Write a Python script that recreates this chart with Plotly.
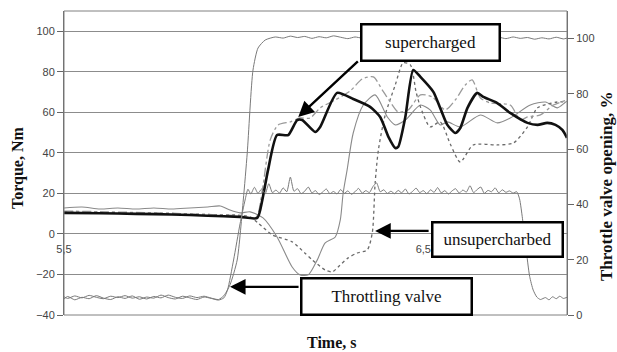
import plotly.graph_objects as go

# ---------------- data ----------------
# Throttle valve opening, supercharged run (%), right axis
thr_sc_t = [5.50, 5.51, 5.53, 5.55, 5.57, 5.59, 5.61, 5.63, 5.65, 5.67, 5.69, 5.71, 5.73, 5.75, 5.77, 5.79,
            5.81, 5.83, 5.85, 5.87, 5.89, 5.91, 5.93, 5.945, 5.962, 5.982, 5.999, 6.010, 6.026, 6.040, 6.060,
            6.088, 6.11, 6.13, 6.15, 6.17, 6.19, 6.21, 6.23, 6.25, 6.27, 6.29, 6.31, 6.33, 6.35, 6.37, 6.39,
            6.41, 6.43, 6.45, 6.47, 6.49, 6.51, 6.53, 6.55, 6.57, 6.59, 6.61, 6.63, 6.65, 6.67, 6.69, 6.71,
            6.73, 6.75, 6.77, 6.79, 6.81, 6.83, 6.85, 6.87, 6.89, 6.90]
thr_sc_v = [6.6, 6.0, 6.9, 6.2, 7.1, 6.4, 5.9, 6.8, 6.3, 7.0, 6.1, 6.6, 5.8, 6.7, 6.2, 7.2,
            6.4, 6.0, 6.9, 6.3, 6.8, 6.1, 5.6, 7.0, 10.9, 19.9, 41.6, 58.6, 88.6, 96.6, 99.5,
            100.6, 100.2, 100.9, 100.4, 100.8, 100.1, 100.7, 100.3, 101.0, 100.5, 100.0, 100.6, 100.2, 100.9, 100.4, 100.8,
            100.1, 100.6, 100.3, 100.8, 100.2, 100.7, 100.1, 100.5, 100.0, 100.6, 100.2, 100.7, 100.1, 100.4, 99.9, 100.5,
            100.0, 100.6, 100.1, 100.4, 99.8, 100.3, 99.9, 100.5, 99.9, 100.2]

# Throttle valve opening, unsupercharged run (%), right axis
thr_us_t = [5.50, 5.51, 5.53, 5.55, 5.57, 5.59, 5.61, 5.63, 5.65, 5.67, 5.69, 5.71, 5.73, 5.75, 5.77, 5.79,
            5.81, 5.83, 5.85, 5.87, 5.89, 5.91, 5.93, 5.945, 5.955, 5.972, 5.990, 6.004, 6.012,
            6.02, 6.03, 6.04, 6.05, 6.06, 6.07, 6.08, 6.09, 6.10, 6.11, 6.12, 6.13, 6.14, 6.15, 6.16, 6.17,
            6.18, 6.19, 6.20, 6.21, 6.22, 6.23, 6.24, 6.25, 6.26, 6.27, 6.28, 6.29, 6.30, 6.31, 6.32, 6.33,
            6.34, 6.35, 6.36, 6.37, 6.38, 6.39, 6.40, 6.41, 6.42, 6.43, 6.44, 6.45, 6.46, 6.47, 6.48, 6.49,
            6.50, 6.51, 6.52, 6.53, 6.54, 6.55, 6.56, 6.57, 6.58, 6.59, 6.60, 6.61, 6.62, 6.63, 6.64, 6.65,
            6.66, 6.67, 6.68, 6.69, 6.70, 6.71, 6.72, 6.73, 6.74, 6.75, 6.76, 6.768, 6.776, 6.786, 6.796,
            6.806, 6.816, 6.826, 6.84, 6.85, 6.86, 6.87, 6.88, 6.89, 6.90]
thr_us_v = [5.8, 6.7, 5.5, 6.4, 5.9, 7.0, 6.1, 5.6, 6.6, 6.0, 6.9, 5.7, 6.5, 6.1, 7.2, 6.3,
            5.8, 6.8, 6.2, 5.6, 6.5, 6.0, 5.4, 6.2, 9.0, 19.9, 33.0, 41.6, 45.5,
            43.8, 46.2, 44.0, 45.6, 43.9, 47.5, 44.3, 45.2, 44.1, 46.0, 44.6, 49.9, 44.8, 45.7, 43.9, 44.8,
            46.3, 44.2, 45.0, 43.6, 44.5, 45.6, 43.9, 44.7, 43.8, 45.4, 44.0, 44.9, 43.7, 44.6, 45.8, 44.1,
            45.0, 44.3, 46.5, 47.8, 44.6, 45.3, 44.0, 44.8, 43.9, 45.1, 44.2, 45.6, 43.8, 44.7, 45.9, 44.3,
            45.0, 43.9, 45.3, 44.4, 46.1, 44.2, 45.0, 43.8, 44.9, 45.7, 44.1, 45.2, 44.5, 46.8, 44.3, 45.4,
            46.3, 44.0, 45.1, 44.6, 46.0, 44.2, 45.3, 44.4, 44.9, 44.1, 44.6, 42.0, 35.0, 24.0, 14.0,
            9.0, 6.5, 5.6, 6.3, 5.5, 6.6, 5.9, 6.8, 6.0, 6.4]

# Torque, supercharged (Nm), thick black
tq_sc_t = [5.50, 5.60, 5.70, 5.80, 5.90, 5.99, 6.038, 6.052, 6.068, 6.093, 6.124, 6.149, 6.163, 6.199, 6.213,
           6.260, 6.305, 6.352, 6.380, 6.403, 6.422, 6.430, 6.450, 6.472, 6.492, 6.528, 6.547, 6.567, 6.589,
           6.603, 6.623, 6.650, 6.667, 6.706, 6.742, 6.790, 6.818, 6.845, 6.868, 6.887, 6.900]
tq_sc_v = [10.4, 10.2, 9.9, 9.6, 9.0, 8.4, 7.9, 16.8, 31.6, 48.8, 48.8, 56.2, 56.2, 50.3, 52.8,
           69.6, 66.6, 62.7, 57.7, 47.9, 42.4, 42.9, 57.7, 80.9, 77.5, 70.1, 62.2, 53.8, 49.8,
           52.3, 62.2, 69.6, 67.6, 64.6, 59.7, 54.8, 53.8, 54.8, 53.8, 51.3, 47.4]

# Torque, supercharged second trace (Nm), grey dash-dot
tq_sc2_t = [5.50, 5.60, 5.70, 5.80, 5.90, 5.99, 6.035, 6.052, 6.074, 6.096, 6.130, 6.157, 6.185, 6.213, 6.255,
            6.297, 6.330, 6.361, 6.386, 6.408, 6.430, 6.458, 6.492, 6.525, 6.561, 6.589, 6.617, 6.636, 6.659,
            6.687, 6.742, 6.770, 6.790, 6.826, 6.862, 6.900]
tq_sc2_v = [11.3, 11.0, 10.6, 10.2, 9.6, 9.0, 8.4, 21.7, 46.4, 53.8, 55.3, 57.2, 57.2, 62.2, 66.1,
            70.6, 76.5, 77.5, 71.0, 65.1, 60.2, 61.2, 68.6, 67.6, 61.2, 66.1, 73.5, 76.0, 67.1,
            64.6, 63.6, 56.2, 57.7, 58.7, 63.6, 66.1]

# Torque, unsupercharged (Nm), thin grey solid
tq_us_t = [5.50, 5.55, 5.60, 5.65, 5.70, 5.75, 5.80, 5.85, 5.90, 5.935, 5.962, 5.99, 6.018, 6.054, 6.093,
           6.135, 6.157, 6.180, 6.205, 6.227, 6.255, 6.269, 6.277, 6.288, 6.305, 6.333, 6.366, 6.400, 6.422,
           6.450, 6.492, 6.519, 6.547, 6.567, 6.603, 6.659, 6.706, 6.742, 6.798, 6.840, 6.873, 6.893, 6.900]
tq_us_v = [12.8, 13.3, 12.3, 12.8, 12.3, 12.8, 12.3, 12.8, 13.3, 13.8, 11.8, 10.4, 10.9, 7.9, -1.5,
           -16.3, -20.2, -20.2, -12.8, -4.4, -1.5, 6.9, 20.2, 31.6, 49.8, 63.6, 68.6, 57.7, 53.8,
           56.2, 63.6, 61.2, 53.8, 55.3, 52.8, 58.7, 54.8, 57.2, 63.6, 65.1, 62.2, 64.6, 65.5]

# Torque, unsupercharged second trace (Nm), dotted
tq_us2_t = [5.50, 5.60, 5.70, 5.80, 5.90, 5.99, 6.018, 6.040, 6.080, 6.135, 6.170, 6.191, 6.227, 6.247, 6.263,
            6.291, 6.316, 6.344, 6.358, 6.366, 6.375, 6.394, 6.422, 6.444, 6.464, 6.480, 6.492, 6.519, 6.547,
            6.575, 6.603, 6.639, 6.706, 6.751, 6.790, 6.818, 6.873, 6.896]
tq_us2_v = [10.9, 10.6, 10.4, 10.1, 9.6, 9.2, 8.4, 5.4, -0.5, -3.9, -9.4, -12.8, -17.8, -18.7, -16.3,
            -11.8, -9.4, -7.9, 0.5, 25.2, 41.4, 58.7, 73.5, 84.4, 83.4, 70.0, 62.7, 52.8, 55.3,
            44.4, 35.5, 43.9, 43.9, 44.9, 52.8, 62.2, 65.1, 65.1]

x_ticks = [5.5, 6.5]
x_tick_labels = ["5,5", "6,5"]
left_ticks = [-40, -20, 0, 20, 40, 60, 80, 100]
right_ticks = [0, 20, 40, 60, 80, 100]

# ---------------- figure ----------------
W, H = 617, 352
L, R, T, B = 64, 50, 11, 37
SERIF = "Liberation Serif, Times New Roman, serif"
SANS = "Liberation Sans, Arial, sans-serif"

fig = go.Figure()
fig.add_trace(go.Scatter(x=thr_sc_t, y=thr_sc_v, yaxis="y2", mode="lines",
                         line=dict(color="#7a7a7a", width=1, shape="spline", smoothing=0.6), name="throttle sc"))
fig.add_trace(go.Scatter(x=thr_us_t, y=thr_us_v, yaxis="y2", mode="lines",
                         line=dict(color="#7a7a7a", width=1, shape="spline", smoothing=0.6), name="throttle us"))
fig.add_trace(go.Scatter(x=tq_us_t, y=tq_us_v, mode="lines",
                         line=dict(color="#8a8a8a", width=1.1, shape="spline", smoothing=0.7), name="torque us"))
fig.add_trace(go.Scatter(x=tq_us2_t, y=tq_us2_v, mode="lines",
                         line=dict(color="#6a6a6a", width=1.3, dash="dot", shape="spline", smoothing=0.7),
                         name="torque us 2"))
fig.add_trace(go.Scatter(x=tq_sc2_t, y=tq_sc2_v, mode="lines",
                         line=dict(color="#9a9a9a", width=1.3, dash="dashdot", shape="spline", smoothing=0.7),
                         name="torque sc 2"))
fig.add_trace(go.Scatter(x=tq_sc_t, y=tq_sc_v, mode="lines",
                         line=dict(color="#111111", width=2.6, shape="spline", smoothing=0.6), name="torque sc"))

x0_pos = (0 - (-40)) / 150.0

fig.update_layout(
    width=W, height=H,
    margin=dict(l=L, r=R, t=T, b=B, pad=0),
    paper_bgcolor="white", plot_bgcolor="white",
    showlegend=False,
    separators=",.",
    xaxis=dict(range=[5.5, 6.9], anchor="free", position=x0_pos,
               tickvals=x_ticks, ticktext=x_tick_labels, ticks="outside", ticklen=5,
               tickcolor="rgba(0,0,0,0)",
               showgrid=False, zeroline=False, showline=False,
               tickfont=dict(family=SANS, size=11, color="#444")),
    yaxis=dict(range=[-40, 110], tickvals=left_ticks, showgrid=True,
               gridcolor="#8c8c8c", gridwidth=1, zeroline=False,
               showline=True, linecolor="#666", linewidth=1,
               ticks="outside", ticklen=6, tickcolor="#666",
               tickfont=dict(family=SANS, size=11, color="#444")),
    yaxis2=dict(range=[0, 110], overlaying="y", side="right", tickvals=right_ticks,
                showgrid=False, zeroline=False, showline=True, linecolor="#666",
                ticks="outside", ticklen=6, tickcolor="#666",
                tickfont=dict(family=SANS, size=11, color="#444")),
)

# plot frame
fig.add_shape(type="rect", xref="paper", yref="paper", x0=0, y0=0, x1=1, y1=1,
              line=dict(color="#808080", width=1), layer="above")

pw = W - L - R
ph = H - T - B


def px_x(px):
    return (px - L) / pw


def px_y(py):
    return (H - B - py) / ph


annotations = []
# axis titles
annotations.append(dict(text="<b>Torque, Nm</b>", xref="paper", yref="paper",
                        x=px_x(18), y=px_y(168), showarrow=False, textangle=-90,
                        font=dict(family=SERIF, size=16, color="#111"),
                        xanchor="center", yanchor="middle"))
annotations.append(dict(text="<b>Throttle valve opening, %</b>", xref="paper", yref="paper",
                        x=px_x(607), y=px_y(186), showarrow=False, textangle=-90,
                        font=dict(family=SERIF, size=17, color="#111"),
                        xanchor="center", yanchor="middle"))
annotations.append(dict(text="<b>Time, s</b>", xref="paper", yref="paper",
                        x=px_x(331), y=px_y(342), showarrow=False,
                        font=dict(family=SERIF, size=16, color="#111"),
                        xanchor="center", yanchor="middle"))

# arrows (tip at x,y ; tail at ax,ay) in data coordinates
arrow_style = dict(showarrow=True, arrowhead=2, arrowsize=1.3, arrowwidth=2.4,
                   arrowcolor="#000", text="", standoff=0, startstandoff=0,
                   xref="x", yref="y", axref="x", ayref="y")
annotations.append(dict(x=6.152, y=57.7, ax=6.322, ay=85.8, **arrow_style))
annotations.append(dict(x=6.366, y=1.5, ax=6.519, ay=1.5, **arrow_style))
annotations.append(dict(x=5.962, y=-26.1, ax=6.157, ay=-26.1, **arrow_style))

# text boxes
box_style = dict(showarrow=False, xref="paper", yref="paper", bgcolor="white",
                 bordercolor="#000", borderwidth=2.5, borderpad=0,
                 font=dict(family=SERIF, size=17, color="#111"),
                 xanchor="center", yanchor="middle", align="center", valign="middle")
annotations.append(dict(text="supercharged", x=px_x(430.5), y=px_y(42.5),
                        width=136, height=34, **box_style))
annotations.append(dict(text="unsupercharbed", x=px_x(497.5), y=px_y(239),
                        width=128, height=32, **box_style))
annotations.append(dict(text="Throttling valve", x=px_x(386.5), y=px_y(296.5),
                        width=168, height=34, **box_style))

fig.update_layout(annotations=annotations)

fig.write_html("out.html")
